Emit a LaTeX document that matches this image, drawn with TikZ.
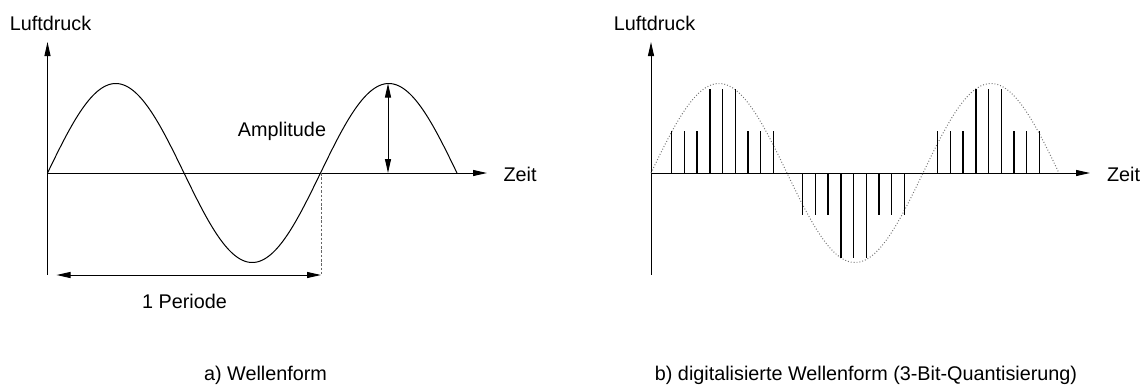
\documentclass[tikz,border=0pt]{standalone}
\usepackage{fontspec}
\setmainfont{Liberation Sans}
\usetikzlibrary{arrows.meta}
\begin{document}
\begin{tikzpicture}[x=1pt,y=-1pt,
  lbl/.style={inner sep=0pt,anchor=base,font=\fontsize{19.8}{24}\selectfont},
  axisline/.style={line width=1pt,-{Triangle[length=14pt,width=6pt]}},
  dimarrow/.style={line width=1pt,{Triangle[length=14pt,width=6pt]}-{Triangle[length=14pt,width=6pt]}},
  wave/.style={line width=1pt},
  dotwave/.style={line width=1pt,black!55,dash pattern=on 0.9pt off 2pt},
  guide/.style={line width=0.9pt,black!60,dash pattern=on 2.5pt off 1.8pt},
  sample/.style={line width=1.4pt,black}]
\useasboundingbox (0,0) rectangle (1143,384);
% ---------- left panel ----------
\coordinate (Lo) at (47.5,173);
\coordinate (Ltop) at (47.5,42);
\coordinate (Lbot) at (47.5,275);
\coordinate (Lright) at (487,173);
\draw[line width=1pt] (Lo) -- (Lbot);
\draw[axisline] (Lo) -- (Ltop);
\draw[axisline] (Lo) -- (Lright);
\draw[wave] plot[domain=0:409.5,samples=240,smooth] ({47.5+\x},{173-89.5*sin(\x/273*360)});
\coordinate (Apeak) at (388,83.5);
\coordinate (Abase) at (388,173);
\draw[dimarrow] (Apeak) -- (Abase);
\coordinate (Pz) at (321,173);
\coordinate (Pr) at (321,275);
\coordinate (Pl) at (56.5,275);
\draw[guide] (Pz) -- (Pr);
\draw[dimarrow] (Pl) -- (Pr);
\node[lbl] (lyl) at (50.5,30) {Luftdruck};
\node[lbl] (lxl) at (520,181.5) {Zeit};
\node[lbl] (amp) at (282,136) {Amplitude};
\node[lbl] (per) at (184.5,308.5) {1 Periode};
\node[lbl] (capa) at (265.5,380.5) {a) Wellenform};
% ---------- right panel ----------
\coordinate (Ro) at (651,173);
\coordinate (Rtop) at (651,42);
\coordinate (Rbot) at (651,275);
\coordinate (Rright) at (1090,173);
\draw[line width=1pt] (Ro) -- (Rbot);
\draw[axisline] (Ro) -- (Rtop);
\draw[axisline] (Ro) -- (Rright);
\draw[dotwave] plot[domain=0:408,samples=240,smooth] ({651+\x},{173-89.5*sin(\x/272*360)});
\foreach \c/\s in {722.5/1,853.5/-1,988.5/1}{
  \foreach \k/\h in {-4/42,-3/42,-2/42,-1/84.5,0/84.5,1/84.5,2/42,3/42,4/42}{
    \draw[sample] ({\c+12.7*\k},173) -- ({\c+12.7*\k},{173-\s*\h});
  }
}
\node[lbl] (ryl) at (654.5,30) {Luftdruck};
\node[lbl] (rxl) at (1123.5,181.5) {Zeit};
\node[lbl] (capb) at (866,380.5) {b) digitalisierte Wellenform (3-Bit-Quantisierung)};
\end{tikzpicture}
\end{document}
